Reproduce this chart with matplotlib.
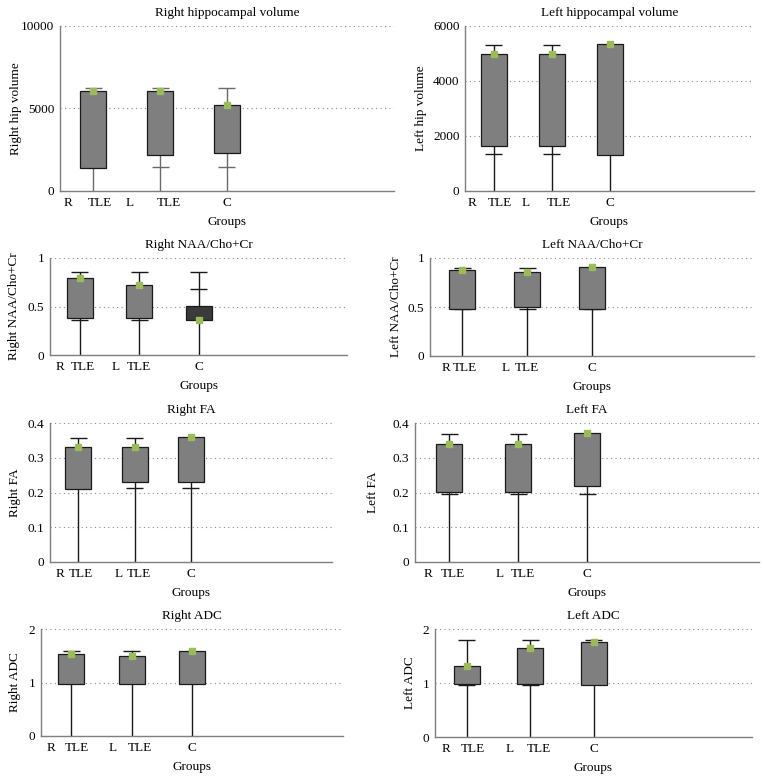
import numpy as np
import matplotlib
matplotlib.use("Agg")
import matplotlib.pyplot as plt
from matplotlib.ticker import FuncFormatter

plt.rcParams['font.family'] = ['Liberation Serif', 'DejaVu Serif']
plt.rcParams['font.size'] = 9.5

# --- dados ---
# cada grupo: caixa de "open" a "close", linha de 0 até "high", traços extras em "ticks"
grupos = ["R TLE", "L TLE", "C"]

rhip_open = [1350, 2150, 2250]
rhip_close = [6050, 6050, 5180]
rhip_high = [6250, 6250, 6250]
rhip_ticks = [[6250], [6250, 1440], [6250, 1440]]

lhip_open = [1640, 1640, 1290]
lhip_close = [4970, 4970, 5330]
lhip_high = [5300, 5300, 5330]
lhip_ticks = [[5300, 1320], [5300, 1320], []]

rnaa_open = [0.386, 0.386, 0.507]
rnaa_close = [0.79, 0.72, 0.362]
rnaa_high = [0.855, 0.855, 0.855]
rnaa_ticks = [[0.855, 0.362], [0.855, 0.362], [0.855, 0.679]]

lnaa_open = [0.481, 0.498, 0.481]
lnaa_close = [0.874, 0.853, 0.904]
lnaa_high = [0.894, 0.894, 0.904]
lnaa_ticks = [[0.894, 0.48], [0.894, 0.478], [0.48]]

rfa_open = [0.211, 0.231, 0.23]
rfa_close = [0.332, 0.332, 0.36]
rfa_high = [0.358, 0.358, 0.36]
rfa_ticks = [[0.358], [0.358, 0.2125], [0.2125]]

lfa_open = [0.201, 0.201, 0.22]
lfa_close = [0.341, 0.341, 0.372]
lfa_high = [0.368, 0.368, 0.372]
lfa_ticks = [[0.368, 0.195], [0.368, 0.195], [0.196]]

radc_open = [0.98, 0.975, 0.975]
radc_close = [1.54, 1.49, 1.59]
radc_high = [1.59, 1.59, 1.59]
radc_ticks = [[1.59], [1.59], []]

ladc_open = [0.99, 0.975, 0.963]
ladc_close = [1.32, 1.64, 1.76]
ladc_high = [1.80, 1.80, 1.80]
ladc_ticks = [[1.80, 0.96], [1.80, 0.96], [1.80]]

# --- layout (pixels) ---
W, H = 764, 783
fig = plt.figure(figsize=(W / 100, H / 100), dpi=100)

paineis = [
    # título, ylabel, dados, ylim, yticks, (esq, base, dir, topo), desloc. ylabel, rótulos x
    ("Right hippocampal volume", "Right hip volume", (rhip_open, rhip_close, rhip_high, rhip_ticks),
     10000, [0, 5000, 10000], (60, 190.5, 394, 26), 44, [0.024, 0.12, 0.21, 0.325, 0.50]),
    ("Left hippocampal volume", "Left hip volume", (lhip_open, lhip_close, lhip_high, lhip_ticks),
     6000, [0, 2000, 4000, 6000], (465, 190.5, 754, 26), 44, [0.024, 0.12, 0.21, 0.325, 0.50]),
    ("Right NAA/Cho+Cr", "Right NAA/Cho+Cr", (rnaa_open, rnaa_close, rnaa_high, rnaa_ticks),
     1, [0, 0.5, 1], (50, 355, 347, 258), 36, [0.035, 0.112, 0.222, 0.30, 0.50]),
    ("Left NAA/Cho+Cr", "Left NAA/Cho+Cr", (lnaa_open, lnaa_close, lnaa_high, lnaa_ticks),
     1, [0, 0.5, 1], (430, 356, 754, 258), 34, [0.05, 0.108, 0.235, 0.30, 0.50]),
    ("Right FA", "Right FA", (rfa_open, rfa_close, rfa_high, rfa_ticks),
     0.4, [0, 0.1, 0.2, 0.3, 0.4], (50, 562, 332, 423), 35, [0.037, 0.11, 0.245, 0.314, 0.50]),
    ("Left FA", "Left FA", (lfa_open, lfa_close, lfa_high, lfa_ticks),
     0.4, [0, 0.1, 0.2, 0.3, 0.4], (415, 562, 759, 423), 42, [0.037, 0.11, 0.245, 0.314, 0.50]),
    ("Right ADC", "Right ADC", (radc_open, radc_close, radc_high, radc_ticks),
     2, [0, 1, 2], (41, 736, 343, 629), 26, [0.034, 0.12, 0.237, 0.327, 0.50]),
    ("Left ADC", "Left ADC", (ladc_open, ladc_close, ladc_high, ladc_ticks),
     2, [0, 1, 2], (435, 737, 752, 629), 25, [0.034, 0.12, 0.237, 0.327, 0.50]),
]

x_pos = np.array([0.10, 0.30, 0.50])
palavras = ["R", "TLE", "L", "TLE", "C"]

for titulo, ylab, (op, cl, hi, tk), ymax, yticks, (l, b, r, t), off, lx in paineis:
    ax = fig.add_axes([l / W, 1 - b / H, (r - l) / W, (b - t) / H])
    largura = 26 / (r - l)
    cap = 17 / (r - l)
    op, cl = np.array(op), np.array(cl)
    cor_linha = '#6a6a6a' if ymax == 10000 else '#1a1a1a'

    ax.vlines(x_pos, 0, hi, color=cor_linha, linewidth=1.0, zorder=2)
    cores = ['#3a3a3a' if c < o else '#7f7f7f' for o, c in zip(op, cl)]
    ax.bar(x_pos, cl - op, bottom=op, width=largura, color=cores,
           edgecolor='#1a1a1a', linewidth=0.9, zorder=3)
    for x, ys in zip(x_pos, tk):
        for y in ys:
            ax.hlines(y, x - cap / 2, x + cap / 2, color=cor_linha, linewidth=1.0, zorder=2.5)
    ax.plot(x_pos, cl, 's', color='#9bbb59', markersize=4, zorder=4)

    ax.set_xlim(0, 1)
    ax.set_ylim(0, ymax)
    ax.set_yticks(yticks)
    ax.yaxis.set_major_formatter(FuncFormatter(lambda v, p: f"{v:g}"))
    ax.set_xticks([])
    ax.tick_params(axis='y', length=0, pad=4)
    ax.yaxis.grid(True, linestyle=(0, (1, 3)), color='#8c8c8c', linewidth=0.8)
    ax.set_axisbelow(True)
    for s in ['top', 'right']:
        ax.spines[s].set_visible(False)
    for s in ['left', 'bottom']:
        ax.spines[s].set_color('#7f7f7f')
        ax.spines[s].set_linewidth(1.0)

    ax.set_title(titulo, fontsize=9.5, pad=7)
    ax.set_ylabel(ylab, fontsize=9.5)
    # o rótulo é ancorado pela borda direita do texto girado
    ax.yaxis.set_label_coords(-(off - 6) / (r - l), 0.5)
    alt = b - t
    for x, w in zip(lx, palavras):
        ax.text(x, -12 / alt, w, transform=ax.transAxes, ha='center', va='center', fontsize=9.5)
    ax.text(0.5, -31 / alt, "Groups", transform=ax.transAxes, ha='center', va='center', fontsize=9.5)

fig.savefig("out.png", dpi=100)
